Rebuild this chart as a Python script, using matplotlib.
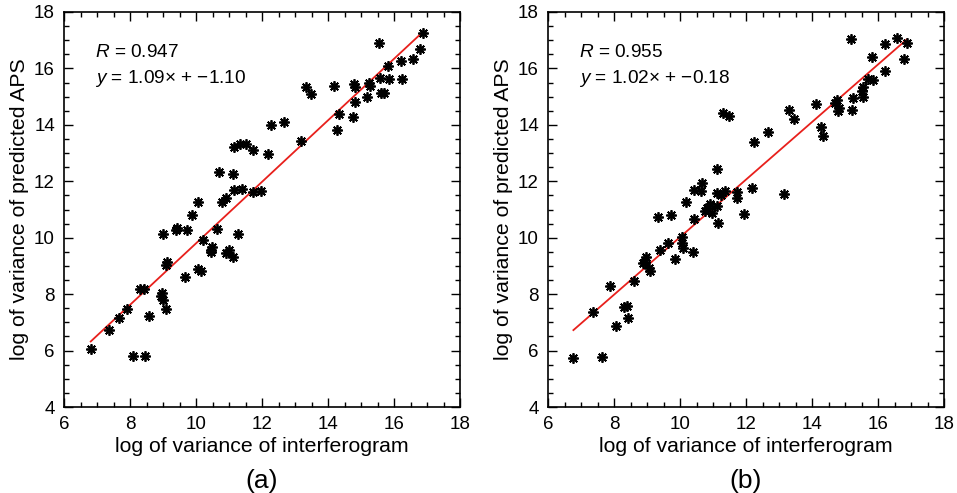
import matplotlib
matplotlib.use("Agg")
import matplotlib.pyplot as plt
from matplotlib.ticker import MultipleLocator
import numpy as np

plt.rcParams['font.family'] = ['Liberation Sans', 'DejaVu Sans']
plt.rcParams['mathtext.fontset'] = 'custom'
plt.rcParams['mathtext.rm'] = 'Liberation Sans'
plt.rcParams['mathtext.it'] = 'Liberation Sans:italic'

# ---- data: panel (a) ----
xa = [16.89, 15.55, 16.79, 15.83, 16.20, 16.57, 15.58, 15.85, 16.23, 13.33, 13.47, 14.18,
      14.79, 14.82, 15.27, 15.25, 15.60, 15.70, 15.19, 14.82, 14.34, 14.75, 14.28, 12.26,
      12.67, 13.17, 11.15, 11.33, 11.52, 11.74, 12.19, 10.70, 11.11, 11.15, 11.38, 11.74,
      11.96, 10.91, 10.80, 10.07, 9.89, 9.01, 9.38, 9.42, 9.72, 10.65, 11.28, 10.20,
      10.47, 10.44, 10.46, 10.91, 11.01, 11.11, 9.13, 9.09, 10.07, 10.14, 9.67, 8.30,
      8.42, 8.96, 8.99, 8.95, 9.09, 7.90, 7.68, 8.59, 7.37, 6.81, 8.08, 8.45]
ya = [17.25, 16.89, 16.68, 16.09, 16.27, 16.32, 15.65, 15.61, 15.61, 15.35, 15.09, 15.38,
      15.45, 15.33, 15.38, 15.50, 15.12, 15.12, 14.97, 14.82, 14.37, 14.29, 13.82, 13.99,
      14.09, 13.44, 13.20, 13.32, 13.32, 13.11, 12.96, 12.32, 12.26, 11.69, 11.71, 11.63,
      11.66, 11.42, 11.27, 11.27, 10.80, 10.12, 10.29, 10.35, 10.29, 10.32, 10.12, 9.93,
      9.68, 9.50, 9.58, 9.46, 9.56, 9.32, 9.15, 9.03, 8.88, 8.83, 8.59, 8.17,
      8.20, 8.05, 7.79, 7.92, 7.49, 7.49, 7.17, 7.23, 6.72, 6.05, 5.81, 5.81]
Ra, slope_a, icpt_a = 0.947, 1.09, -1.10

# ---- data: panel (b) ----
xb = [15.17, 16.57, 16.87, 16.21, 15.81, 16.79, 16.21, 15.71, 15.84, 15.54, 15.50, 15.54,
      15.25, 14.75, 14.70, 14.83, 14.80, 15.22, 14.12, 13.31, 13.45, 14.27, 14.32, 11.31,
      11.49, 12.66, 12.24, 11.13, 10.68, 10.42, 10.63, 11.11, 11.36, 11.23, 11.72, 11.72,
      12.17, 13.16, 10.18, 10.91, 11.13, 10.81, 10.76, 10.96, 11.94, 11.16, 10.42, 9.34,
      9.72, 10.05, 10.05, 10.10, 10.40, 9.65, 9.39, 9.85, 8.97, 8.94, 8.89, 9.07,
      9.09, 8.61, 7.88, 8.30, 8.40, 8.43, 8.06, 7.35, 6.77, 7.65]
yb = [17.03, 17.07, 16.91, 16.87, 16.39, 16.32, 15.92, 15.61, 15.59, 15.33, 15.21, 15.00,
      14.94, 14.88, 14.76, 14.59, 14.50, 14.52, 14.74, 14.52, 14.20, 13.93, 13.61, 14.41,
      14.33, 13.76, 13.40, 12.42, 11.95, 11.69, 11.66, 11.59, 11.66, 11.51, 11.63, 11.39,
      11.75, 11.55, 11.27, 11.19, 11.12, 11.04, 10.95, 10.86, 10.84, 10.53, 10.65, 10.72,
      10.80, 10.01, 9.80, 9.62, 9.50, 9.80, 9.56, 9.23, 9.30, 9.15, 9.09, 8.91,
      8.83, 8.47, 8.29, 7.53, 7.57, 7.14, 6.87, 7.37, 5.74, 5.78]
Rb, slope_b, icpt_b = 0.955, 1.02, -0.18

x_label = "log of variance of interferogram"
y_label = "log of variance of predicted APS"
panel_labels = ["(a)", "(b)"]

W, H = 957, 493
fig = plt.figure(figsize=(W / 100, H / 100), dpi=100)

def px_axes(left, top, right, bottom):
    return fig.add_axes([left / W, 1 - bottom / H, (right - left) / W, (bottom - top) / H])

panels = [
    (px_axes(64, 12, 460, 407), xa, ya, Ra, slope_a, icpt_a, panel_labels[0]),
    (px_axes(548, 12, 944, 407), xb, yb, Rb, slope_b, icpt_b, panel_labels[1]),
]

for ax, x, y, R, m, c, lab in panels:
    x = np.asarray(x)
    xl = np.array([x.min(), x.max()])
    ax.plot(xl, m * xl + c, color='#e8201c', lw=1.3, zorder=2)
    ax.plot(x, y, linestyle='none', marker=(8, 2, 0), markersize=7.5,
            markeredgewidth=1.3, color='black', zorder=3)
    ax.set_xlim(6, 18)
    ax.set_ylim(4, 18)
    ax.xaxis.set_major_locator(MultipleLocator(2))
    ax.xaxis.set_minor_locator(MultipleLocator(0.5))
    ax.yaxis.set_major_locator(MultipleLocator(2))
    ax.yaxis.set_minor_locator(MultipleLocator(0.5))
    ax.tick_params(which='both', direction='in', top=True, right=True, width=1.0,
                   labelsize=13.5)
    ax.tick_params(which='major', length=6.5, pad=6.5)
    ax.tick_params(which='minor', length=3.5)
    for s in ax.spines.values():
        s.set_linewidth(1.2)
    ax.set_xlabel(x_label, fontsize=15.3, labelpad=3)
    ax.set_ylabel(y_label, fontsize=15.3, labelpad=4)
    ax.text(0.078, 0.898, '$R$ = %.3f' % R, transform=ax.transAxes,
            fontsize=13.7, va='center', ha='left')
    sign = '+' if c >= 0 else '\u2212'
    ax.text(0.078, 0.831, '$y$ = %.2f\u00d7 + %s%.2f' % (m, sign, abs(c)),
            transform=ax.transAxes, fontsize=13.7, va='center', ha='left')
    bb = ax.get_position()
    fig.text(bb.x0 + bb.width / 2, 1 - 481 / H, lab, ha='center', va='center',
             fontsize=19)

fig.savefig("out.png", dpi=100)
